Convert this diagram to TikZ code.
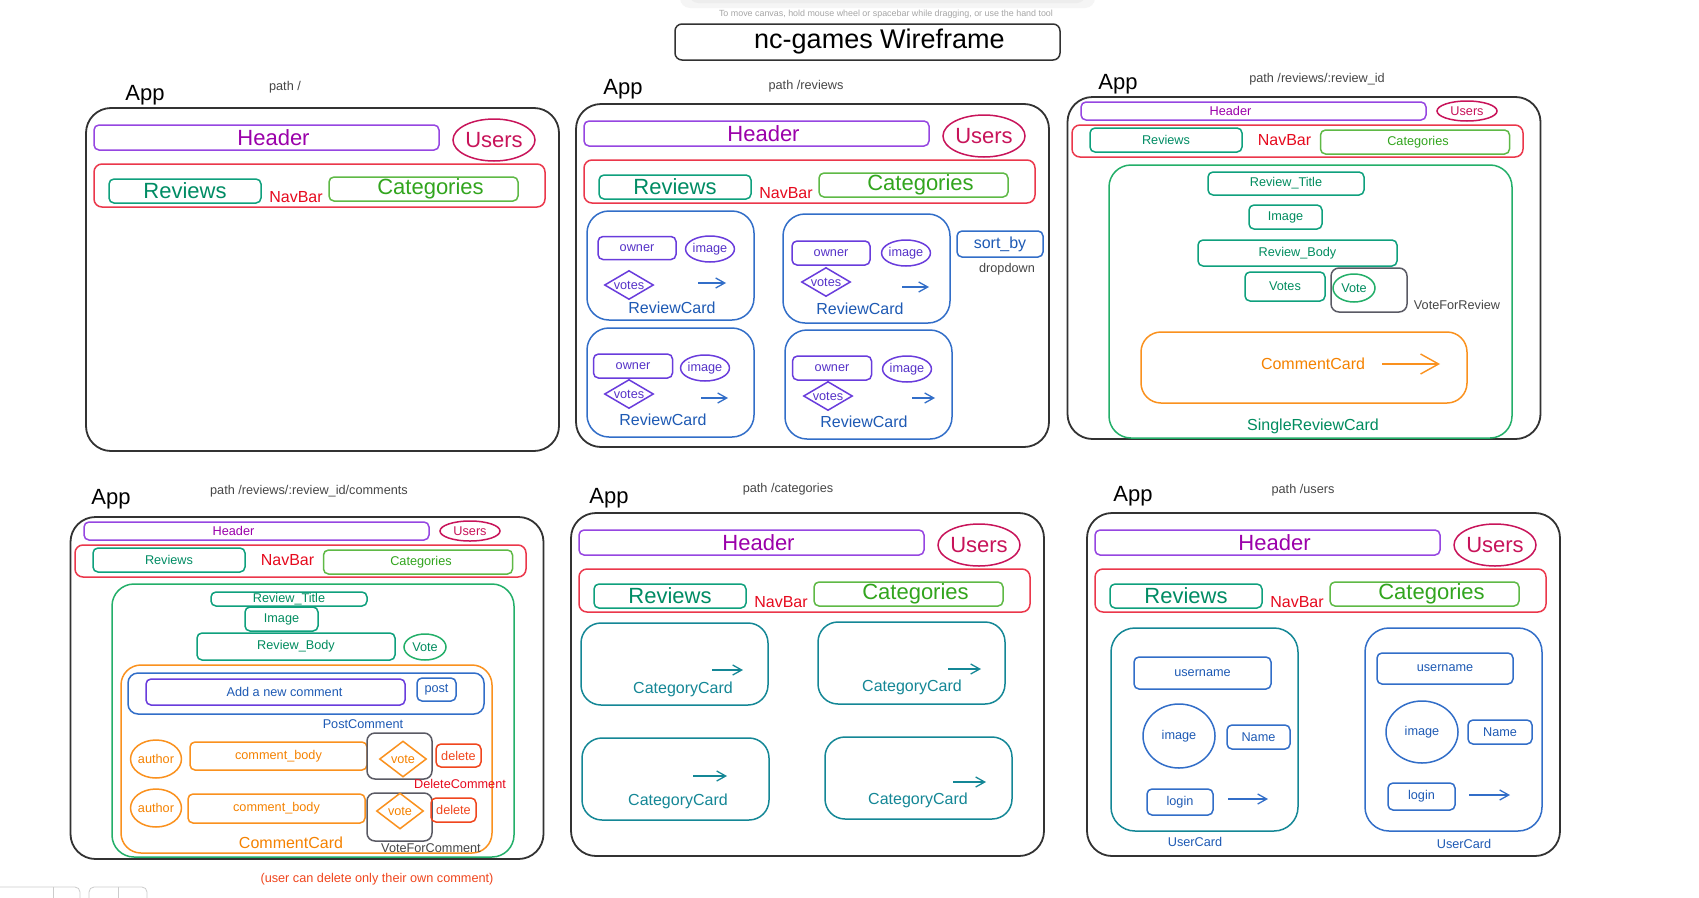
\documentclass[tikz,border=0pt]{standalone}
\usepackage{fontspec}
\setmainfont{Liberation Sans}
\usetikzlibrary{shapes.geometric,arrows.meta}

\definecolor{frame}{RGB}{50,50,50}
\definecolor{hdrline}{RGB}{150,70,225}
\definecolor{hdrtext}{RGB}{155,0,170}
\definecolor{usercol}{RGB}{200,20,90}
\definecolor{navline}{RGB}{235,55,75}
\definecolor{navtext}{RGB}{230,10,30}
\definecolor{revline}{RGB}{15,160,125}
\definecolor{revtext}{RGB}{0,140,100}
\definecolor{catline}{RGB}{95,185,70}
\definecolor{cattext}{RGB}{50,165,30}
\definecolor{cardblue}{RGB}{50,110,200}
\definecolor{cardtext}{RGB}{30,90,180}
\definecolor{ownline}{RGB}{105,60,220}
\definecolor{owntext}{RGB}{85,50,200}
\definecolor{singline}{RGB}{35,175,105}
\definecolor{singtext}{RGB}{0,140,95}
\definecolor{orangeline}{RGB}{250,145,30}
\definecolor{orangetext}{RGB}{245,130,0}
\definecolor{graybox}{RGB}{90,90,100}
\definecolor{graytext}{RGB}{70,70,70}
\definecolor{delcol}{RGB}{240,70,30}
\definecolor{catcard}{RGB}{20,135,150}

\newcommand{\fbig}{\fontsize{22}{26}\selectfont}
\newcommand{\fmid}{\fontsize{16}{19}\selectfont}
\newcommand{\fsmall}{\fontsize{12.7}{15}\selectfont}

\tikzset{
  appframe/.style={draw=frame, line width=1.8pt, rounded corners=25pt, inner sep=0pt},
  wbox/.style={line width=1.5pt, rounded corners=5pt, inner sep=0pt},
  hdrbox/.style={wbox, draw=hdrline, text=hdrtext},
  userbubble/.style={ellipse, draw=usercol, text=usercol, line width=1.5pt, inner sep=0pt},
  navbox/.style={wbox, draw=navline, rounded corners=8pt},
  revbox/.style={wbox, draw=revline, text=revtext},
  catbox/.style={wbox, draw=catline, text=cattext},
  apptext/.style={font=\fbig, text=black},
  pathtext/.style={font=\fsmall, text=graytext},
  revcard/.style={draw=cardblue, line width=1.5pt, rounded corners=22pt, inner sep=0pt},
  ownbox/.style={wbox, draw=ownline, text=owntext, font=\fsmall},
  ownbubble/.style={ellipse, draw=ownline, text=owntext, line width=1.5pt, inner sep=0pt, font=\fsmall},
  ownkite/.style={diamond, aspect=1.7, draw=ownline, text=owntext, line width=1.5pt, inner sep=0pt, font=\fsmall},
  cardlabel/.style={text=cardtext, font=\fmid},
  bluebox/.style={wbox, draw=cardblue, text=cardtext, font=\fsmall},
  singcard/.style={draw=singline, line width=1.5pt, rounded corners=22pt, inner sep=0pt},
  singbox/.style={wbox, draw=revline, text=singtext, font=\fsmall},
  singbubble/.style={ellipse, draw=singline, text=singtext, line width=1.5pt, inner sep=0pt, font=\fsmall},
  votebox/.style={draw=graybox, line width=1.5pt, rounded corners=8pt, inner sep=0pt},
  combox/.style={draw=orangeline, line width=1.5pt, rounded corners=20pt, inner sep=0pt},
  orangebox/.style={wbox, draw=orangeline, text=orangetext, font=\fsmall},
  orangebubble/.style={ellipse, draw=orangeline, text=orangetext, line width=1.5pt, inner sep=0pt, font=\fsmall},
  orangekite/.style={diamond, aspect=1.3, draw=orangeline, text=orangetext, line width=1.5pt, inner sep=0pt, font=\fsmall},
  delbox/.style={wbox, draw=delcol, text=delcol, font=\fsmall},
  catcardbox/.style={draw=catcard, line width=1.5pt, rounded corners=20pt, inner sep=0pt},
  smallarrow/.style={line width=1.3pt, -{Straight Barb[length=9pt,width=10pt]}},
  bigarrow/.style={line width=1.4pt, -{Straight Barb[length=18pt,width=20pt]}},
}

% App frame with big Header / NavBar
\newcommand{\appbig}[2]{%
  \begin{scope}[shift={#2}]
    \node[appframe, minimum width=\appwidth pt, minimum height=343pt] (#1) at (236.5,171.5) {};
    % Header
    \node[hdrbox, minimum width=345pt, minimum height=25pt,
      label={[text=hdrtext, font=\fbig, xshift=7pt]center:Header}] (#1-header) at (180.5,29.5) {};
    \node[userbubble, font=\fbig, minimum width=82pt, minimum height=42pt] (#1-users) at (408,32) {Users};
    % NavBar
    \node[navbox, minimum width=451pt, minimum height=43pt] (#1-navbar) at (233.5,77.5) {};
    \node[revbox, font=\fbig, minimum width=152pt, minimum height=24pt] (#1-reviews) at (99,83) {Reviews};
    \node[text=navtext, font=\fmid] (#1-navlabel) at (210,89) {NavBar};
    \node[catbox, minimum width=189pt, minimum height=24pt,
      label={[text=cattext, font=\fbig, xshift=7pt]center:Categories}] (#1-categories) at (337.5,81) {};
  \end{scope}}

% App frame with small Header / NavBar
\newcommand{\appsmall}[2]{%
  \begin{scope}[shift={#2}]
    \node[appframe, minimum width=\appwidth pt, minimum height=342pt] (#1) at (237,171) {};
    % Header
    \node[hdrbox, minimum width=345pt, minimum height=18pt,
      label={[text=hdrtext, font=\fsmall, xshift=-23pt]center:Header}] (#1-header) at (186.5,14) {};
    \node[userbubble, font=\fsmall, minimum width=60pt, minimum height=20pt] (#1-users) at (400,14) {Users};
    % NavBar
    \node[navbox, minimum width=451pt, minimum height=32pt] (#1-navbar) at (230.5,44) {};
    \node[revbox, font=\fsmall, minimum width=152pt, minimum height=24pt] (#1-reviews) at (99,43) {Reviews};
    \node[text=navtext, font=\fmid] (#1-navlabel) at (217.5,43) {NavBar};
    \node[catbox, minimum width=189pt, minimum height=24pt,
      label={[text=cattext, font=\fsmall, xshift=3pt]center:Categories}] (#1-categories) at (348,45) {};
  \end{scope}}

\begin{document}
\begin{tikzpicture}[x=1pt, y=-1pt]

    % Drawing Parameters
    \pgfmathsetmacro{\pagewidth}{1699}%
    \pgfmathsetmacro{\pageheight}{897}%
    \pgfmathsetmacro{\appwidth}{473}%

    \fill[white] (0,0) rectangle (\pagewidth,\pageheight);
    \useasboundingbox (0,0) rectangle (\pagewidth,\pageheight);

    % Canvas leftovers
    \fill[black!4, rounded corners=10pt] (680,-14) rectangle (1095,8);
    \fill[black!7, rounded corners=8pt] (690,-14) rectangle (1085,3);
    \node[text=black!35, font=\fontsize{8.9}{10}\selectfont] (hint) at (886,14)
      {To move canvas, hold mouse wheel or spacebar while dragging, or use the hand tool};
    \draw[black!20, line width=0.8pt, rounded corners=5pt] (-5,905) -- (-5,887) -- (80,887) -- (80,905);
    \draw[black!20, line width=0.8pt] (53,887) -- (53,905);
    \draw[black!20, line width=0.8pt, rounded corners=5pt] (89,905) -- (89,887) -- (147,887) -- (147,905);
    \draw[black!20, line width=0.8pt] (118,887) -- (118,905);

    % Title
    \node[draw=frame, line width=1.5pt, rounded corners=7pt, inner sep=0pt,
      minimum width=385pt, minimum height=36pt,
      label={[font=\fontsize{27}{32}\selectfont, xshift=12pt]center:nc-games Wireframe}] (title) at (867.5,42) {};

    %% Path /
    \node[apptext] (p1-app) at (145,95) {App};
    \node[pathtext] (p1-path) at (285,87) {path /};
    \appbig{p1}{(86,108)}

    %% Path /reviews
    \node[apptext] (p2-app) at (623,89) {App};
    \node[pathtext] (p2-path) at (806,86) {path /reviews};
    \appbig{p2}{(576,104)}
    % ReviewCard top left
    \node[revcard, minimum width=167pt, minimum height=109pt] (rc1) at (670.5,265.5) {};
    \node[ownbox, minimum width=78pt, minimum height=23pt] (rc1-owner) at (637,248) {owner};
    \node[ownbubble, minimum width=44pt, minimum height=26pt] (rc1-image) at (710,249) {image};
    \node[ownkite, minimum width=49pt, minimum height=29pt] (rc1-votes) at (629,285) {votes};
    \coordinate (rc1-from) at (698,283);
    \coordinate (rc1-to) at (726,283);
    \draw[smallarrow, cardblue] (rc1-from) -- (rc1-to);
    \node[cardlabel] (rc1-label) at (672,308) {ReviewCard};
    % ReviewCard top right
    \node[revcard, minimum width=167pt, minimum height=109pt] (rc2) at (866.5,268.5) {};
    \node[ownbox, minimum width=78pt, minimum height=24pt] (rc2-owner) at (831,253) {owner};
    \node[ownbubble, minimum width=44pt, minimum height=26pt] (rc2-image) at (906,253) {image};
    \node[ownkite, minimum width=49pt, minimum height=29pt] (rc2-votes) at (826,282) {votes};
    \coordinate (rc2-from) at (902,287);
    \coordinate (rc2-to) at (929,287);
    \draw[smallarrow, cardblue] (rc2-from) -- (rc2-to);
    \node[cardlabel] (rc2-label) at (860,309) {ReviewCard};
    % ReviewCard bottom left
    \node[revcard, minimum width=167pt, minimum height=109pt] (rc3) at (670.5,382.5) {};
    \node[ownbox, minimum width=79pt, minimum height=24pt] (rc3-owner) at (633,366) {owner};
    \node[ownbubble, minimum width=44pt, minimum height=26pt] (rc3-image) at (705,368) {image};
    \node[ownkite, minimum width=49pt, minimum height=29pt] (rc3-votes) at (629,394) {votes};
    \coordinate (rc3-from) at (701,398);
    \coordinate (rc3-to) at (728,398);
    \draw[smallarrow, cardblue] (rc3-from) -- (rc3-to);
    \node[cardlabel] (rc3-label) at (663,420) {ReviewCard};
    % ReviewCard bottom right
    \node[revcard, minimum width=167pt, minimum height=109pt] (rc4) at (868.5,384.5) {};
    \node[ownbox, minimum width=79pt, minimum height=24pt] (rc4-owner) at (832,368) {owner};
    \node[ownbubble, minimum width=44pt, minimum height=26pt] (rc4-image) at (907,369) {image};
    \node[ownkite, minimum width=49pt, minimum height=29pt] (rc4-votes) at (828,396) {votes};
    \coordinate (rc4-from) at (912,398);
    \coordinate (rc4-to) at (935,398);
    \draw[smallarrow, cardblue] (rc4-from) -- (rc4-to);
    \node[cardlabel] (rc4-label) at (864,422) {ReviewCard};
    % Sort
    \node[bluebox, font=\fmid, minimum width=86pt, minimum height=26pt] (sortby) at (1000,244) {sort\_by};
    \node[pathtext] (dropdown) at (1007,269) {dropdown};

    %% Path /reviews/:review_id
    \node[apptext] (p3-app) at (1118,84) {App};
    \node[pathtext] (p3-path) at (1317,79) {path /reviews/:review\_id};
    \appsmall{p3}{(1067,97)}
    \node[singcard, minimum width=403pt, minimum height=273pt] (p3-single) at (1310.5,301.5) {};
    \node[singbox, minimum width=156pt, minimum height=23pt] (p3-title) at (1286,183.5) {Review\_Title};
    \node[singbox, minimum width=73pt, minimum height=24pt] (p3-image) at (1285.5,217) {Image};
    \node[singbox, minimum width=199pt, minimum height=26pt] (p3-body) at (1297.5,253) {Review\_Body};
    \node[singbox, minimum width=80pt, minimum height=29pt] (p3-votes) at (1285,286.5) {Votes};
    \node[votebox, minimum width=76pt, minimum height=44pt] (p3-voter) at (1369,290) {};
    \node[singbubble, minimum width=42pt, minimum height=28pt] (p3-vote) at (1354,288) {Vote};
    \node[pathtext] (p3-voterlabel) at (1457,305) {VoteForReview};
    % CommentCard
    \node[combox, minimum width=326pt, minimum height=71pt] (p3-comment) at (1304,367.5) {};
    \node[text=orangetext, font=\fmid] (p3-commentlabel) at (1313,364) {CommentCard};
    \coordinate (p3-from) at (1382,364);
    \coordinate (p3-to) at (1440,364);
    \draw[bigarrow, orangeline] (p3-from) -- (p3-to);
    \node[text=singtext, font=\fmid] (p3-singlelabel) at (1313,426) {SingleReviewCard};

    %% Path /reviews/:review_id/comments
    \node[apptext] (p4-app) at (111,499) {App};
    \node[pathtext] (p4-path) at (309,491) {path /reviews/:review\_id/comments};
    \appsmall{p4}{(70,517)}
    \node[singcard, minimum width=402pt, minimum height=273pt] (p4-single) at (313,720.5) {};
    \node[singbox, minimum width=156pt, minimum height=14pt] (p4-title) at (289,599) {Review\_Title};
    \node[singbox, minimum width=73pt, minimum height=24pt] (p4-image) at (281.5,619) {Image};
    \node[singbox, minimum width=198pt, minimum height=27pt] (p4-body) at (296,646.5) {Review\_Body};
    \node[singbubble, minimum width=42pt, minimum height=26pt] (p4-vote) at (425,647) {Vote};
    % CommentCard
    \node[combox, minimum width=371pt, minimum height=188pt] (p4-comment) at (306.5,759) {};
    % PostComment
    \node[draw=cardblue, line width=1.5pt, rounded corners=10pt, minimum width=356pt, minimum height=41pt] (p4-post) at (306,693.5) {};
    \node[wbox, draw=ownline, text=cardtext, font=\fsmall, minimum width=259pt, minimum height=26pt,
      label={[text=cardtext, font=\fsmall, xshift=9pt]center:Add a new comment}] (p4-newcomment) at (275.5,692) {};
    \node[bluebox, minimum width=39pt, minimum height=23pt] (p4-postbtn) at (436.5,689.5) {post};
    \node[text=cardtext, font=\fsmall] (p4-postlabel) at (363,724) {PostComment};
    % First comment
    \node[orangebubble, minimum width=48pt, minimum height=38pt] (p4-author1) at (156,759) {author};
    \node[orangebox, minimum width=177pt, minimum height=28pt] (p4-body1) at (278.5,756) {comment\_body};
    \node[votebox, minimum width=65pt, minimum height=46pt] (p4-voter1) at (399.5,756) {};
    \node[orangekite, minimum width=47pt, minimum height=36pt] (p4-vote1) at (403,759) {vote};
    \node[delbox, minimum width=45pt, minimum height=23pt] (p4-delete1) at (458.5,755.5) {delete};
    \node[text=navtext, font=\fsmall] (p4-deletelabel) at (460,784) {DeleteComment};
    % Second comment
    \node[orangebubble, minimum width=48pt, minimum height=38pt] (p4-author2) at (156,808) {author};
    \node[orangebox, minimum width=177pt, minimum height=29pt] (p4-body2) at (276.5,808.5) {comment\_body};
    \node[votebox, minimum width=65pt, minimum height=48pt] (p4-voter2) at (399.5,817) {};
    \node[orangekite, minimum width=47pt, minimum height=36pt] (p4-vote2) at (400,811) {vote};
    \node[delbox, minimum width=45pt, minimum height=24pt] (p4-delete2) at (453.5,810) {delete};
    \node[text=orangetext, font=\fmid] (p4-commentlabel) at (291,843) {CommentCard};
    \node[text=graytext, font=\fsmall] (p4-voterlabel) at (431,848) {VoteForComment};
    \node[text=delcol, font=\fsmall] (p4-note) at (377,879) {(user can delete only their own comment)};

    %% Path /categories
    \node[apptext] (p5-app) at (609,498) {App};
    \node[pathtext] (p5-path) at (788,489) {path /categories};
    \appbig{p5}{(571,513)}
    \node[catcardbox, minimum width=187pt, minimum height=82pt] (cc1) at (674.5,664) {};
    \coordinate (cc1-from) at (712,670);
    \coordinate (cc1-to) at (743,670);
    \draw[smallarrow, catcard] (cc1-from) -- (cc1-to);
    \node[text=catcard, font=\fmid] (cc1-label) at (683,689) {CategoryCard};
    \node[catcardbox, minimum width=187pt, minimum height=82pt] (cc2) at (911.5,663) {};
    \coordinate (cc2-from) at (948,669);
    \coordinate (cc2-to) at (981,669);
    \draw[smallarrow, catcard] (cc2-from) -- (cc2-to);
    \node[text=catcard, font=\fmid] (cc2-label) at (912,687) {CategoryCard};
    \node[catcardbox, minimum width=187pt, minimum height=82pt] (cc3) at (675.5,779) {};
    \coordinate (cc3-from) at (693,776);
    \coordinate (cc3-to) at (727,776);
    \draw[smallarrow, catcard] (cc3-from) -- (cc3-to);
    \node[text=catcard, font=\fmid] (cc3-label) at (678,801) {CategoryCard};
    \node[catcardbox, minimum width=187pt, minimum height=82pt] (cc4) at (918.5,778) {};
    \coordinate (cc4-from) at (953,782);
    \coordinate (cc4-to) at (986,782);
    \draw[smallarrow, catcard] (cc4-from) -- (cc4-to);
    \node[text=catcard, font=\fmid] (cc4-label) at (918,800) {CategoryCard};

    %% Path /users
    \node[apptext] (p6-app) at (1133,496) {App};
    \node[pathtext] (p6-path) at (1303,490) {path /users};
    \appbig{p6}{(1087,513)}
    % UserCard left
    \node[catcardbox, rounded corners=24pt, minimum width=187pt, minimum height=203pt] (uc1) at (1204.5,729.5) {};
    \node[bluebox, minimum width=137pt, minimum height=32pt] (uc1-username) at (1202.5,673) {username};
    \node[ellipse, draw=cardblue, text=cardtext, line width=1.5pt, inner sep=0pt, font=\fsmall,
      minimum width=72pt, minimum height=64pt] (uc1-image) at (1179,736) {image};
    \node[bluebox, minimum width=63pt, minimum height=24pt] (uc1-name) at (1258.5,737) {Name};
    \node[bluebox, minimum width=66pt, minimum height=26pt] (uc1-login) at (1180,802) {login};
    \coordinate (uc1-from) at (1228,799);
    \coordinate (uc1-to) at (1268,799);
    \draw[smallarrow, cardblue] (uc1-from) -- (uc1-to);
    \node[text=cardtext, font=\fsmall] (uc1-label) at (1195,842) {UserCard};
    % UserCard right
    \node[revcard, rounded corners=24pt, minimum width=177pt, minimum height=203pt] (uc2) at (1453.5,729.5) {};
    \node[bluebox, minimum width=136pt, minimum height=31pt] (uc2-username) at (1445,668.5) {username};
    \node[ellipse, draw=cardblue, text=cardtext, line width=1.5pt, inner sep=0pt, font=\fsmall,
      minimum width=72pt, minimum height=62pt] (uc2-image) at (1422,732) {image};
    \node[bluebox, minimum width=64pt, minimum height=24pt] (uc2-name) at (1500,732) {Name};
    \node[bluebox, minimum width=67pt, minimum height=27pt] (uc2-login) at (1421.5,796.5) {login};
    \coordinate (uc2-from) at (1469,795);
    \coordinate (uc2-to) at (1510,795);
    \draw[smallarrow, cardblue] (uc2-from) -- (uc2-to);
    \node[text=cardtext, font=\fsmall] (uc2-label) at (1464,844) {UserCard};

\end{tikzpicture}
\end{document}
